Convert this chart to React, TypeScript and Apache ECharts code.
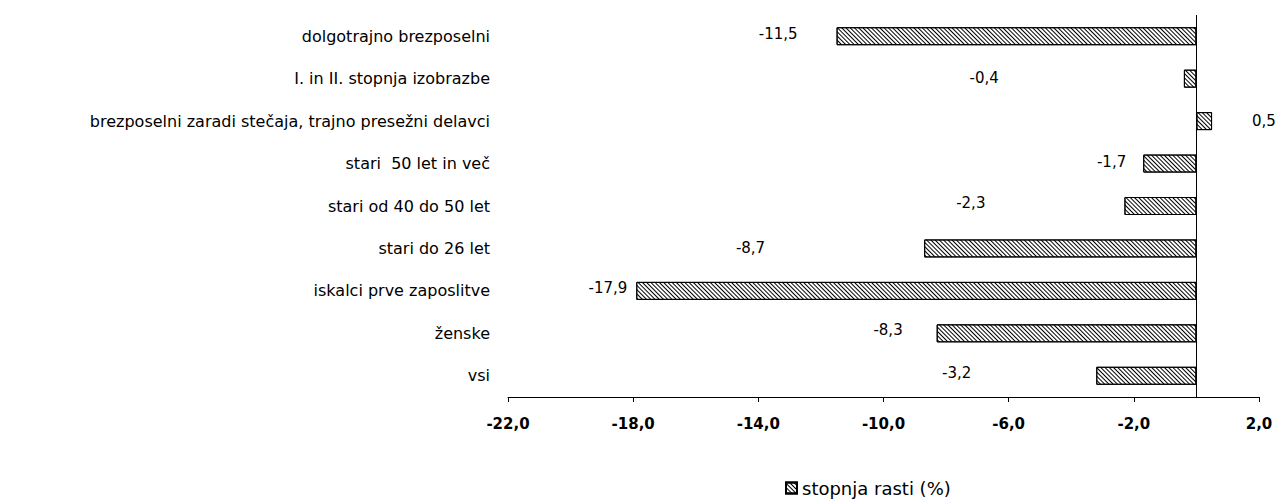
import React, { useEffect, useRef } from "react";
import * as echarts from "echarts";

const categories = [
  "dolgotrajno brezposelni",
  "I. in II. stopnja izobrazbe",
  "brezposelni zaradi stečaja, trajno presežni delavci",
  "stari  50 let in več",
  "stari od 40 do 50 let",
  "stari do 26 let",
  "iskalci prve zaposlitve",
  "ženske",
  "vsi",
];
const growthRate = [-11.5, -0.4, 0.5, -1.7, -2.3, -8.7, -17.9, -8.3, -3.2];
const seriesName = "stopnja rasti (%)";
const axisMin = -22;
const axisMax = 2;
const axisInterval = 4;

// label nudges (layout only), px relative to default label placement
const labelNudgeX = [-34, -180, 35, -12, -134, -154, -4, -29, -120];
const labelNudgeY = [-2, -1, 0, -2, -3, 0, -3, -3, -3];

const fmt = (v: number) => v.toFixed(1).replace(".", ",");

export default function App() {
  const ref = useRef<HTMLDivElement>(null);
  useEffect(() => {
    if (!ref.current) return;
    const chart = echarts.init(ref.current, undefined, { renderer: "svg" });
    const font = "DejaVu Sans";
    const hatch = {
      symbol: "rect",
      symbolSize: 1,
      dashArrayX: [1, 0],
      dashArrayY: [1, 2],
      rotation: Math.PI / 4,
      color: "#000",
      backgroundColor: "#fff",
    };
    chart.setOption({
      animation: false,
      backgroundColor: "#fff",
      grid: { left: 508, right: 24, top: 15, bottom: 102, containLabel: false },
      legend: {
        data: [seriesName],
        left: 780,
        top: 474,
        itemWidth: 11,
        itemHeight: 11,
        itemGap: 6,
        icon: "rect",
        textStyle: { fontFamily: font, fontSize: 18, color: "#000" },
      },
      xAxis: {
        type: "value",
        min: axisMin,
        max: axisMax,
        interval: axisInterval,
        splitLine: { show: false },
        axisLine: { show: true, lineStyle: { color: "#000", width: 1 } },
        axisTick: { show: true, length: 5, lineStyle: { color: "#000" } },
        axisLabel: {
          formatter: (v: number) => fmt(v),
          fontFamily: font,
          fontWeight: "bold",
          fontSize: 15,
          color: "#000",
          margin: 19,
        },
      },
      yAxis: {
        type: "category",
        data: categories,
        inverse: true,
        axisLine: { show: false },
        axisTick: { show: false },
        axisLabel: {
          fontFamily: font,
          fontSize: 16,
          color: "#000",
          margin: 18,
        },
      },
      series: [
        {
          name: seriesName,
          type: "bar",
          barWidth: 18,
          itemStyle: {
            color: "#fff",
            borderColor: "#000",
            borderWidth: 1,
            decal: hatch,
          },
          data: growthRate.map((v, i) => ({
            value: v,
            label: {
              show: true,
              position: v < 0 ? "left" : "right",
              distance: 5,
              offset: [labelNudgeX[i], labelNudgeY[i]],
              formatter: (p: any) => fmt(p.value),
              fontFamily: font,
              fontSize: 15,
              color: "#000",
            },
          })),
          markLine: {
            silent: true,
            symbol: "none",
            label: { show: false },
            lineStyle: { color: "#000", width: 1, type: "solid" },
            data: [{ xAxis: 0 }],
          },
        },
      ],
      aria: { enabled: false },
    });
    return () => chart.dispose();
  }, []);
  return (
    <div
      ref={ref}
      style={{ position: "fixed", left: 0, top: 0, width: 1283, height: 499 }}
    />
  );
}
